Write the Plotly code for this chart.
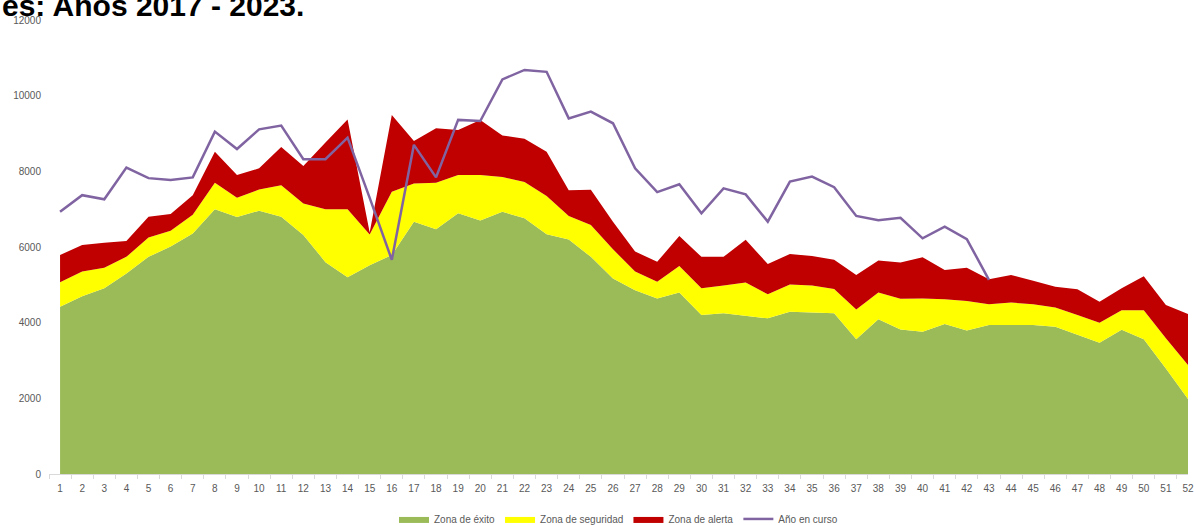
import plotly.graph_objects as go

semanas = list(range(1, 53))

# limite superior de cada zona
zona_exito = [4420, 4700, 4910, 5300, 5740, 6010, 6360, 7000, 6790, 6960,
              6800, 6320, 5600, 5200, 5520, 5790, 6670, 6470, 6890, 6700,
              6930, 6760, 6340, 6200, 5740, 5170, 4860, 4640, 4800, 4200,
              4250, 4190, 4115, 4290, 4265, 4250, 3560, 4090, 3820, 3760,
              3965, 3790, 3940, 3940, 3940, 3890, 3670, 3470, 3810, 3560,
              2790, 1980]
zona_seguridad = [5070, 5350, 5450, 5740, 6250, 6430, 6850, 7700, 7300, 7520,
                  7630, 7150, 7000, 7000, 6330, 7460, 7680, 7700, 7900, 7900,
                  7850, 7720, 7350, 6820, 6580, 5940, 5350, 5080, 5500, 4910,
                  4980, 5060, 4750, 5010, 4980, 4890, 4350, 4800, 4630, 4640,
                  4620, 4570, 4490, 4530, 4490, 4400, 4200, 4000, 4330, 4330,
                  3590, 2880]
zona_alerta = [5790, 6050, 6110, 6160, 6800, 6870, 7370, 8520, 7900, 8080,
               8640, 8140, 8760, 9370, 6380, 9490, 8800, 9140, 9090, 9360,
               8950, 8860, 8520, 7500, 7510, 6670, 5880, 5610, 6290, 5740,
               5740, 6190, 5550, 5815, 5760, 5660, 5260, 5640, 5590, 5730,
               5390, 5450, 5150, 5260, 5110, 4950, 4880, 4555, 4910, 5230,
               4470, 4230]
anio_en_curso = [6930, 7370, 7260, 8100, 7820, 7770, 7840, 9050, 8590, 9110,
                 9210, 8320, 8320, 8890, 7300, 5660, 8700, 7840, 9360, 9330,
                 10430, 10680, 10630, 9400, 9580, 9270, 8080, 7450, 7660, 6890,
                 7550, 7390, 6670, 7730, 7860, 7580, 6820, 6710, 6770, 6230,
                 6540, 6210, 5130]

fig = go.Figure()
fig.add_trace(go.Scatter(x=semanas, y=zona_exito, name="Zona de éxito",
                         mode="lines", line=dict(width=0, color="#9BBB59"),
                         fill="tozeroy", fillcolor="#9BBB59"))
fig.add_trace(go.Scatter(x=semanas, y=zona_seguridad, name="Zona de seguridad",
                         mode="lines", line=dict(width=0, color="#FFFF00"),
                         fill="tonexty", fillcolor="#FFFF00"))
fig.add_trace(go.Scatter(x=semanas, y=zona_alerta, name="Zona de alerta",
                         mode="lines", line=dict(width=0, color="#C00000"),
                         fill="tonexty", fillcolor="#C00000"))
fig.add_trace(go.Scatter(x=semanas[:len(anio_en_curso)], y=anio_en_curso,
                         name="Año en curso", mode="lines",
                         line=dict(width=2.5, color="#8064A2")))

# titulo recortado por el borde superior, como en la imagen
fig.add_annotation(text="<b>es: Años 2017 - 2023.</b>", xref="paper", yref="paper",
                   x=0, y=1, xanchor="left", yanchor="middle",
                   xshift=-49, yshift=15, showarrow=False,
                   font=dict(family="Liberation Sans", size=30, color="black"),
                   )

fig.update_layout(
    width=1194, height=525,
    margin=dict(l=49, r=6, t=20, b=51, autoexpand=False),
    plot_bgcolor="white", paper_bgcolor="white",
    font=dict(family="Liberation Sans", size=10, color="#595959"),
    showlegend=True,
    legend=dict(orientation="h", x=0.5, xanchor="center", y=-0.099,
                yanchor="middle", font=dict(size=10, color="#595959"),
                traceorder="normal", itemwidth=30),
    xaxis=dict(range=[0.5, 52], tickvals=semanas, ticktext=[str(s) for s in semanas],
               showgrid=False, showline=True, linecolor="#D9D9D9", linewidth=1,
               ticks="", zeroline=False, ticklabelstandoff=5,
               minor=dict(tickvals=[s - 0.5 for s in semanas], ticks="outside",
                          ticklen=4, tickcolor="#D9D9D9")),
    yaxis=dict(range=[0, 12000], dtick=2000, tickformat="d", showgrid=False,
               showline=False, zeroline=False, ticks="", ticklabelstandoff=7),
)

fig.write_html("out.html", config={"displayModeBar": False},
               post_script="document.body.style.margin='0';"
                           "document.body.style.overflow='hidden';")
